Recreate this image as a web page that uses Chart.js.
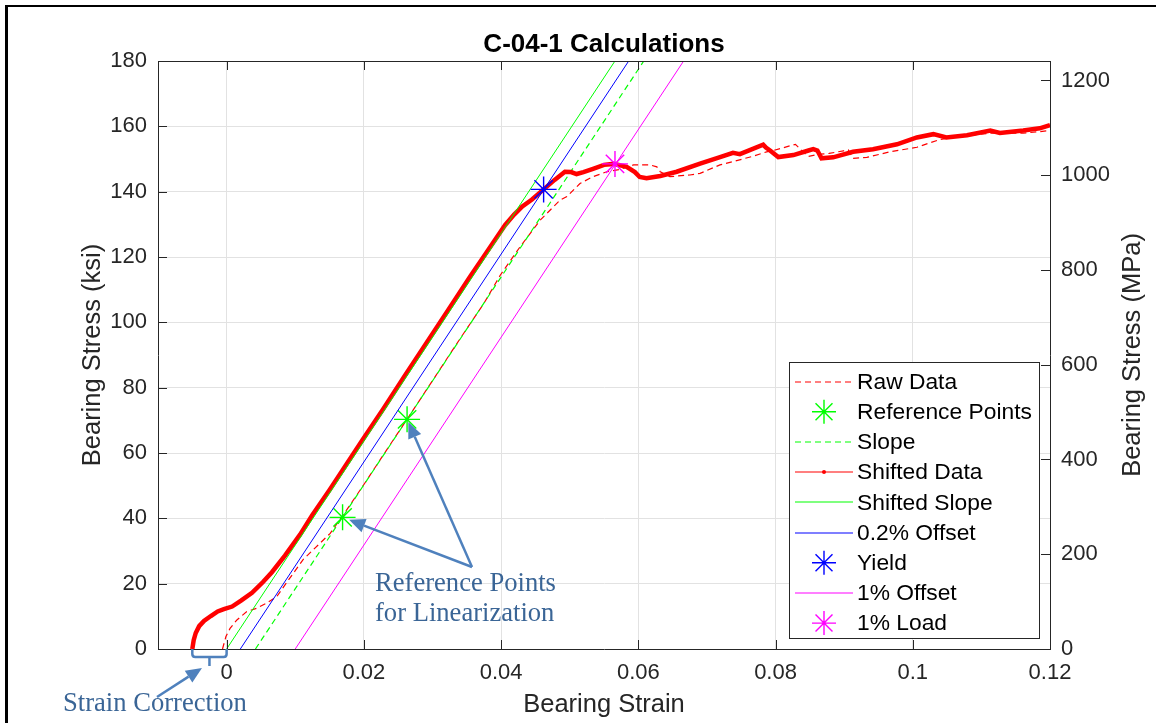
<!DOCTYPE html>
<html>
<head>
<meta charset="utf-8">
<title>C-04-1 Calculations</title>
<script src="https://cdn.jsdelivr.net/npm/chart.js@4.4.1/dist/chart.umd.min.js"></script>
<style>
  html, body { margin: 0; padding: 0; background: #fff; overflow: hidden; }
  #wrap { position: relative; width: 1156px; height: 723px; overflow: hidden; }
  #frame { position: absolute; left: 5px; top: 5px; width: 1300px; height: 900px;
           border-left: 3px solid #000; border-top: 2px solid #000; }
  canvas { position: absolute; left: 0; top: 0; }
</style>
</head>
<body>
<div id="wrap">
  <div id="frame"></div>
  <canvas id="calcChart" width="1156" height="723"></canvas>
</div>
<script>
// Shifted data (strain corrected), ksi
const shiftedStrain = [
  -0.0050, -0.0048, -0.0045, -0.0040, -0.0033, -0.0023, -0.0013, -0.0004, 0.0008, 0.0021,
  0.0037, 0.0053, 0.0066, 0.0085, 0.0107, 0.0125, 0.0150, 0.0174, 0.0198, 0.0229,
  0.0259, 0.0291, 0.0323, 0.0355, 0.0381, 0.0406, 0.0419, 0.0431, 0.0445, 0.0462,
  0.0478, 0.0493, 0.0502, 0.0510, 0.0520, 0.0534, 0.0550, 0.0564, 0.0583, 0.0595,
  0.0602, 0.0612, 0.0632, 0.0656, 0.0690, 0.0718, 0.0738, 0.0748, 0.0782, 0.0786,
  0.0792, 0.0804, 0.0826, 0.0848, 0.0855, 0.0861, 0.0867, 0.0884, 0.0913, 0.0942,
  0.0977, 0.1006, 0.1030, 0.1049, 0.1079, 0.1113, 0.1127, 0.1161, 0.1185, 0.1200
];
const shiftedStress = [
  0, 2.7, 4.9, 7.0, 8.6, 10.1, 11.5, 12.2, 13.0, 14.8,
  17.2, 20.5, 23.5, 28.6, 35.0, 41.0, 48.7, 56.3, 64.0, 73.7,
  83.4, 93.6, 103.8, 114.0, 122.1, 129.8, 133.0, 135.5, 137.6, 140.7,
  143.6, 146.1, 146.0, 145.4, 146.0, 147.0, 148.2, 148.5, 147.6, 146.0,
  144.5, 144.1, 144.8, 146.1, 148.6, 150.5, 151.9, 151.5, 154.4, 153.5,
  152.6, 150.6, 151.2, 152.6, 153.0, 152.6, 150.2, 150.5, 152.2, 153.0,
  154.5, 156.6, 157.6, 156.6, 157.3, 158.7, 158.0, 158.7, 159.4, 160.4
];

// Raw data (before strain correction)
const rawStrain = [
  -0.0006, -0.0001, 0.0005, 0.0015, 0.0029, 0.0044, 0.0058, 0.0073, 0.0088, 0.0112,
  0.0151, 0.0175, 0.0198, 0.0235, 0.0272, 0.0304, 0.0339, 0.0375, 0.0399, 0.0428,
  0.0457, 0.0486, 0.0496, 0.0515, 0.0534, 0.0554, 0.0573, 0.0593, 0.0617, 0.0627,
  0.0632, 0.0646, 0.0675, 0.0690, 0.0719, 0.0738, 0.0768, 0.0787, 0.0797, 0.0829,
  0.0840, 0.0848, 0.0865, 0.0878, 0.0899, 0.0906, 0.0913, 0.0933, 0.0967, 0.1006,
  0.1040, 0.1074, 0.1113, 0.1161, 0.1200
];
const rawStress = [
  0, 3.8, 6.3, 8.9, 11.4, 12.5, 14.0, 16.0, 20.5, 27.5,
  35.4, 42.6, 49.7, 61.5, 73.2, 83.4, 94.6, 105.8, 114.5, 123.2,
  131.3, 137.4, 138.5, 142.5, 144.6, 146.1, 146.8, 148.2, 148.2, 147.6,
  146.1, 144.6, 145.1, 145.6, 148.2, 149.2, 150.9, 152.2, 152.6, 154.5,
  152.2, 150.8, 151.5, 151.7, 152.5, 152.8, 150.2, 150.5, 152.2, 153.6,
  156.0, 157.0, 157.9, 157.9, 158.7
];

// Linearization points and fitted lines
const refStrain = [0.0169, 0.0263];
const refStress = [40.3, 70.3];
const lineStress = [0, 180];
const slopeStrain = [0.0042, 0.0608];
const shiftedSlopeStrain = [0, 0.0566];
const offset02Strain = [0.002, 0.0586];
const offset1Strain = [0.01, 0.0666];
const yieldStrain = [0.0462];
const yieldStress = [140.7];
const loadStrain = [0.0566];
const loadStress = [148.5];

// Axes
const xTicks = [0, 0.02, 0.04, 0.06, 0.08, 0.1, 0.12];
const xTickLabels = ["0", "0.02", "0.04", "0.06", "0.08", "0.1", "0.12"];
const ksiTicks = [0, 20, 40, 60, 80, 100, 120, 140, 160, 180];
const mpaTicks = [0, 200, 400, 600, 800, 1000, 1200];
const KSI_TO_MPA = 6.894757;

const AXIS = "#262626";
const ANNOT = "#4F81BD";
const ANNOT_TEXT = "#3A6596";
const SANS = "'Liberation Sans', Arial, sans-serif";
const SERIF = "'Liberation Serif', 'Times New Roman', serif";

Chart.defaults.font.family = SANS;

const pts = (xs, ys) => xs.map((x, i) => ({ x: x, y: ys[i] }));

const lineSet = (label, data, color, width, dash) => ({
  label, data, showLine: true, borderColor: color, borderWidth: width,
  borderDash: dash || [], pointRadius: 0, pointHoverRadius: 0, tension: 0,
});
const starSet = (label, data, color) => ({
  label, data, showLine: false, pointStyle: "star", pointRadius: 13,
  pointBorderWidth: 1.4, pointBorderColor: color, pointBackgroundColor: color,
  pointHoverRadius: 13,
});

const datasets = [
  lineSet("Raw Data", pts(rawStrain, rawStress), "#ff0000", 1.2, [6, 4]),
  starSet("Reference Points", pts(refStrain, refStress), "#00ff00"),
  lineSet("Slope", pts(slopeStrain, lineStress), "#00ff00", 1.2, [6, 4]),
  lineSet("Shifted Data", pts(shiftedStrain, shiftedStress), "#ff0000", 4.5),
  lineSet("Shifted Slope", pts(shiftedSlopeStrain, lineStress), "#00ff00", 1),
  lineSet("0.2% Offset", pts(offset02Strain, lineStress), "#0000ff", 1),
  starSet("Yield", pts(yieldStrain, yieldStress), "#0000ff"),
  lineSet("1% Offset", pts(offset1Strain, lineStress), "#ff00ff", 1),
  starSet("1% Load", pts(loadStrain, loadStress), "#ff00ff"),
];
// later series are drawn on top, like the original plot
datasets.forEach((d, i) => { d.order = datasets.length - i; });

function drawStar(ctx, x, y, r, color) {
  const d = r * Math.SQRT1_2;
  ctx.save();
  ctx.strokeStyle = color;
  ctx.lineWidth = 1.4;
  ctx.beginPath();
  ctx.moveTo(x - r, y); ctx.lineTo(x + r, y);
  ctx.moveTo(x, y - r); ctx.lineTo(x, y + r);
  ctx.moveTo(x - d, y - d); ctx.lineTo(x + d, y + d);
  ctx.moveTo(x - d, y + d); ctx.lineTo(x + d, y - d);
  ctx.stroke();
  ctx.restore();
}

function drawArrow(ctx, x1, y1, x2, y2) {
  const ang = Math.atan2(y2 - y1, x2 - x1);
  const head = 16, half = 7;
  const bx = x2 - head * Math.cos(ang), by = y2 - head * Math.sin(ang);
  ctx.save();
  ctx.strokeStyle = ANNOT;
  ctx.fillStyle = ANNOT;
  ctx.lineWidth = 2.5;
  ctx.beginPath();
  ctx.moveTo(x1, y1);
  ctx.lineTo(bx, by);
  ctx.stroke();
  ctx.beginPath();
  ctx.moveTo(x2, y2);
  ctx.lineTo(bx + half * Math.sin(ang), by - half * Math.cos(ang));
  ctx.lineTo(bx - half * Math.sin(ang), by + half * Math.cos(ang));
  ctx.closePath();
  ctx.fill();
  ctx.restore();
}

// box, inward ticks, right label
const axesPlugin = {
  id: "matlabAxes",
  afterDraw(chart) {
    const { ctx, chartArea: a, scales } = chart;
    const tick = 9;
    ctx.save();
    ctx.strokeStyle = AXIS;
    ctx.lineWidth = 1;
    ctx.beginPath();
    ctx.moveTo(a.left, Math.round(a.top) + 0.5);
    ctx.lineTo(a.right, Math.round(a.top) + 0.5);
    xTicks.forEach((v) => {
      const px = Math.round(scales.x.getPixelForValue(v)) + 0.5;
      ctx.moveTo(px, a.bottom); ctx.lineTo(px, a.bottom - tick);
      ctx.moveTo(px, a.top); ctx.lineTo(px, a.top + tick);
    });
    ksiTicks.forEach((v) => {
      const py = Math.round(scales.y.getPixelForValue(v)) + 0.5;
      ctx.moveTo(a.left, py); ctx.lineTo(a.left + tick, py);
    });
    mpaTicks.forEach((v) => {
      const py = Math.round(scales.y2.getPixelForValue(v)) + 0.5;
      ctx.moveTo(a.right, py); ctx.lineTo(a.right - tick, py);
    });
    ctx.stroke();

    // right axis title, reading bottom to top
    ctx.translate(1133, (a.top + a.bottom) / 2);
    ctx.rotate(-Math.PI / 2);
    ctx.fillStyle = AXIS;
    ctx.font = "25.5px " + SANS;
    ctx.textAlign = "center";
    ctx.textBaseline = "middle";
    ctx.fillText("Bearing Stress (MPa)", 0, 0);
    ctx.restore();
  },
};

// legend inside the plot area
const legendRows = [
  { text: "Raw Data", color: "#ff0000", dash: [6, 4] },
  { text: "Reference Points", color: "#00ff00", star: true },
  { text: "Slope", color: "#00ff00", dash: [6, 4] },
  { text: "Shifted Data", color: "#ff0000", dot: true },
  { text: "Shifted Slope", color: "#00ff00" },
  { text: "0.2% Offset", color: "#0000ff" },
  { text: "Yield", color: "#0000ff", star: true },
  { text: "1% Offset", color: "#ff00ff" },
  { text: "1% Load", color: "#ff00ff", star: true },
];

const legendPlugin = {
  id: "insideLegend",
  afterDraw(chart) {
    const ctx = chart.ctx;
    ctx.save();
    ctx.fillStyle = "#fff";
    ctx.fillRect(789.5, 362.5, 250, 276);
    ctx.strokeStyle = AXIS;
    ctx.lineWidth = 1;
    ctx.strokeRect(789.5, 362.5, 250, 276);
    ctx.font = "22.8px " + SANS;
    ctx.textBaseline = "middle";
    legendRows.forEach((row, i) => {
      const cy = 381.5 + i * 30.2;
      if (row.star) {
        drawStar(ctx, 824, cy, 12, row.color);
      } else {
        ctx.strokeStyle = row.color;
        ctx.lineWidth = 1.2;
        ctx.setLineDash(row.dash || []);
        ctx.beginPath();
        ctx.moveTo(795, Math.round(cy));
        ctx.lineTo(853, Math.round(cy));
        ctx.stroke();
        ctx.setLineDash([]);
        if (row.dot) {
          ctx.fillStyle = row.color;
          ctx.beginPath();
          ctx.arc(824, Math.round(cy), 2, 0, Math.PI * 2);
          ctx.fill();
        }
      }
      ctx.fillStyle = "#000";
      ctx.fillText(row.text, 857, cy + 1);
    });
    ctx.restore();
  },
};

// hand-drawn callouts
const calloutPlugin = {
  id: "callouts",
  afterDraw(chart) {
    const { ctx, scales } = chart;
    const x = scales.x, y = scales.y;
    ctx.save();

    // bracket under the strain correction
    const bl = x.getPixelForValue(shiftedStrain[0]);
    const br = x.getPixelForValue(0);
    const bm = (bl + br) / 2;
    ctx.strokeStyle = ANNOT;
    ctx.lineWidth = 2.5;
    ctx.beginPath();
    ctx.moveTo(bl, 649);
    ctx.lineTo(bl, 654);
    ctx.quadraticCurveTo(bl, 657, bl + 3, 657);
    ctx.lineTo(br - 3, 657);
    ctx.quadraticCurveTo(br, 657, br, 654);
    ctx.lineTo(br, 649);
    ctx.moveTo(bm, 657);
    ctx.lineTo(bm, 666);
    ctx.stroke();
    drawArrow(ctx, 157, 697, 202, 668);

    // arrows to the reference points
    const sx = 472, sy = 567;
    const gaps = [7, 3];
    refStrain.forEach((v, i) => {
      const px = x.getPixelForValue(v), py = y.getPixelForValue(refStress[i]);
      const len = Math.hypot(sx - px, sy - py);
      drawArrow(ctx, sx, sy, px + (sx - px) / len * gaps[i], py + (sy - py) / len * gaps[i]);
    });

    ctx.fillStyle = ANNOT_TEXT;
    ctx.font = "26.6px " + SERIF;
    ctx.textBaseline = "alphabetic";
    ctx.textAlign = "left";
    ctx.fillText("Strain Correction", 63, 711);
    ctx.fillText("Reference Points", 375, 591);
    ctx.fillText("for Linearization", 375, 621);
    ctx.restore();
  },
};

const tickFont = { size: 22 };

const config = {
  type: "scatter",
  data: { datasets },
  options: {
    responsive: false,
    animation: false,
    events: [],
    layout: { padding: 0 },
    plugins: {
      legend: { display: false },
      tooltip: { enabled: false },
      title: {
        display: true,
        fullSize: false,
        text: "C-04-1 Calculations",
        color: "#000",
        font: { size: 26, weight: "bold" },
        padding: { top: 29, bottom: 0.8 },
      },
    },
    scales: {
      x: {
        type: "linear",
        min: -0.01,
        max: 0.12,
        afterBuildTicks: (s) => { s.ticks = xTicks.map((v) => ({ value: v })); },
        afterFit: (s) => { s.height = 74; },
        ticks: {
          autoSkip: false, maxRotation: 0, padding: 11, font: tickFont, color: AXIS,
          callback: (v, i) => xTickLabels[i],
        },
        grid: { color: "#e2e2e2", drawTicks: false },
        border: { color: AXIS },
        title: {
          display: true, text: "Bearing Strain", color: AXIS,
          font: { size: 25.5 }, padding: { top: 0, bottom: 2.7 },
        },
      },
      y: {
        type: "linear",
        position: "left",
        min: 0,
        max: 180,
        afterBuildTicks: (s) => { s.ticks = ksiTicks.map((v) => ({ value: v })); },
        afterFit: (s) => { s.width = 158; },
        ticks: { padding: 11, font: tickFont, color: AXIS },
        grid: { color: "#e2e2e2", drawTicks: false },
        border: { color: AXIS },
        title: {
          display: true, text: "Bearing Stress (ksi)", color: AXIS,
          font: { size: 25.5 }, padding: { top: 77.7, bottom: 0 },
        },
      },
      y2: {
        type: "linear",
        position: "right",
        min: 0,
        max: 180 * KSI_TO_MPA,
        afterBuildTicks: (s) => { s.ticks = mpaTicks.map((v) => ({ value: v })); },
        afterFit: (s) => { s.width = 106; },
        ticks: { padding: 11, font: tickFont, color: AXIS, callback: (v) => String(v) },
        grid: { display: false, drawTicks: false },
        border: { color: AXIS },
      },
    },
  },
  plugins: [axesPlugin, calloutPlugin, legendPlugin],
};

const calcChart = new Chart(document.getElementById("calcChart").getContext("2d"), config);
</script>
</body>
</html>
